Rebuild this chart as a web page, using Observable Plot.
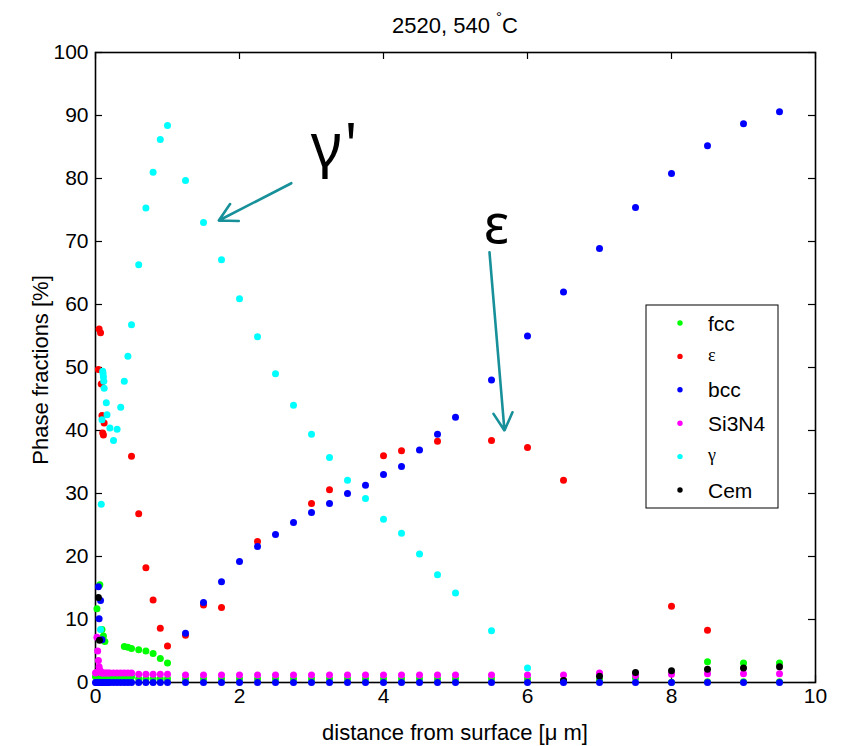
<!DOCTYPE html>
<html><head><meta charset="utf-8">
<script src="https://cdn.jsdelivr.net/npm/d3@7"></script>
<script src="https://cdn.jsdelivr.net/npm/@observablehq/plot@0.6"></script>
<style>body{margin:0;background:#fff}</style>
</head><body><div id="chart"></div>
<script>
// common sampling grid (µm)
const distance = [0,0.01,0.02,0.03,0.04,0.05,0.06,0.07,0.08,0.09,0.1,0.125,0.15,0.175,0.2,0.25,0.3,0.35,0.4,0.45,0.5,
  0.6,0.7,0.8,0.9,1,
  1.25,1.5,1.75,2,2.25,2.5,2.75,3,3.25,3.5,3.75,4,4.25,4.5,4.75,5,
  5.5,6,6.5,7,7.5,8,8.5,9,9.5];
// rows along the bottom (values on the common grid)
const si3n4 = [1.5,1.6,7.2,5.0,3.5,2.5,2.0,1.7,1.6,1.5,1.5,1.5,1.5,1.5,1.5,1.5,1.5,1.5,1.5,1.5,1.5,
  1.3,1.3,1.3,1.3,1.3,
  1.2,1.2,1.2,1.2,1.2,1.2,1.2,1.2,1.2,1.2,1.2,1.2,1.2,1.2,1.2,1.2,
  1.2,1.2,1.2,1.5,1.1,1.3,1.4,1.4,1.4];
const fcc2 = [0.9,0.9,0.9,0.9,0.9,0.9,0.9,0.9,0.9,0.9,0.9,0.9,0.9,0.9,0.9,0.9,0.9,0.9,0.9,0.9,0.9,
  0.6,0.6,0.6,0.6,0.6,
  0.6,0.6,0.6,0.6,0.6,0.6,0.6,0.6,0.6,0.6,0.6,0.6,0.6,0.6,0.6,0.6,
  0.6,0.6,0.3,0.4,0.7,0.05,0.1,0.1,0.1];
const bcc2 = distance.map(() => 0);
// scattered series
const fccX = [0.02,0.06,0.09,0.11,0.13,0.4,0.45,0.5,0.6,0.7,0.8,0.9,1.0,8.5,9.0,9.5];
const fccY = [11.7,15.5,8.4,7.4,6.5,5.7,5.6,5.4,5.2,5.0,4.6,3.8,3.1,3.3,3.1,3.1];
const epsX = [0.04,0.05,0.07,0.08,0.09,0.1,0.11,0.12,0.5,0.6,0.7,0.8,0.9,1.0,1.25,1.5,1.75,2.25,3.0,3.25,4.0,4.25,4.75,5.5,6.0,6.5,8.0,8.5];
const epsY = [49.7,56.1,55.5,47.4,42.4,39.6,39.3,41.2,35.9,26.8,18.2,13.1,8.6,5.8,7.5,12.3,11.9,22.4,28.4,30.6,36.0,36.8,38.3,38.4,37.3,32.1,12.1,8.3];
const bccX = [0.04,0.05,0.07,0.09,1.25,1.5,1.75,2,2.25,2.5,2.75,3,3.25,3.5,3.75,4,4.25,4.5,4.75,5,5.5,6,6.5,7,7.5,8,8.5,9,9.5];
const bccY = [15.2,10.1,13.0,6.8,7.8,12.7,16.0,19.2,21.6,23.5,25.4,27.0,28.4,30.0,31.3,33.0,34.3,36.9,39.4,42.1,48.0,55.0,62.0,68.9,75.4,80.8,85.2,88.7,90.6];
const gamX = [0.07,0.08,0.09,0.1,0.105,0.11,0.115,0.12,0.15,0.16,0.2,0.25,0.3,0.35,0.4,0.45,0.5,0.6,0.7,0.8,0.9,1.0,
  1.25,1.5,1.75,2,2.25,2.5,2.75,3,3.25,3.5,3.75,4,4.25,4.5,4.75,5,5.5,6];
const gamY = [8.4,28.3,41.7,49.4,49.0,48.5,47.8,46.7,44.4,42.5,40.4,38.4,40.2,43.7,47.8,51.8,56.8,66.3,75.3,81.0,86.2,88.4,
  79.7,73.0,67.1,60.9,54.9,49.0,44.0,39.4,35.7,32.1,29.2,25.9,23.7,20.4,17.1,14.2,8.2,2.3];
const cemX = [0.04,0.055,6.5,7.0,7.5,8.0,8.5,9.0,9.5];
const cemY = [13.5,6.7,0.3,1.0,1.6,1.85,2.1,2.3,2.5];
// legend, ticks, annotations
const legendNames = ["fcc","ε","bcc","Si3N4","γ","Cem"];
const legendColors = ["#00ff00","#ff0000","#0000ff","#ff00ff","#00ffff","#000000"];
const xTicks = [0,2,4,6,8,10];
const yTicks = [0,10,20,30,40,50,60,70,80,90,100];
const arrows = [
  {x1:2.72, y1:79.25, x2:1.713, y2:73.33},
  {x1:5.472, y1:68.3, x2:5.68, y2:40.0}
];
const notes = [
  {x:2.99, y:82.0, text:"γ'", size:60, anchor:"start"},
  {x:5.57, y:69.7, text:"ε", size:54, anchor:"middle"}
];

const W = 842, H = 746, mL = 95, mR = 27, mT = 52, mB = 64;
const plotW = W - mL - mR, plotH = H - mT - mB;
const font = "'Liberation Sans', Arial, Helvetica, sans-serif";
const teal = "#17909a";

const pts = (xs, ys) => xs.map((x, i) => ({x, y: ys[i]}));
const row = vals => distance.map((x, i) => ({x, y: vals[i]}));
const dot = (data, fill) => Plot.dot(data, {x: "x", y: "y", r: 3.5, fill, stroke: "none"});

const chart = Plot.plot({
  width: W, height: H,
  marginLeft: mL, marginRight: mR, marginTop: mT, marginBottom: mB,
  style: {fontFamily: font, background: "white", overflow: "visible"},
  x: {domain: [0, 10]},
  y: {domain: [0, 100]},
  marks: [
    Plot.frame({stroke: "black", strokeWidth: 1.6}),
    Plot.tickX(xTicks, {x: d => d, insetTop: plotH - 7, stroke: "black", strokeWidth: 1.2}),
    Plot.tickX(xTicks, {x: d => d, insetBottom: plotH - 7, stroke: "black", strokeWidth: 1.2}),
    Plot.tickY(yTicks, {y: d => d, insetRight: plotW - 7, stroke: "black", strokeWidth: 1.2}),
    Plot.tickY(yTicks, {y: d => d, insetLeft: plotW - 7, stroke: "black", strokeWidth: 1.2}),
    Plot.axisX({ticks: xTicks, tickSize: 0, tickPadding: 6, label: null, fontSize: 21, tickFormat: d => String(d), fill: "black"}),
    Plot.axisY({ticks: yTicks, tickSize: 0, tickPadding: 7, label: null, fontSize: 21, tickFormat: d => String(d), fill: "black"}),
    dot(row(fcc2), "#00ff00"),
    dot(pts(fccX, fccY), "#00ff00"),
    dot(pts(epsX, epsY), "#ff0000"),
    dot(pts(bccX, bccY), "#0000ff"),
    dot(row(si3n4), "#ff00ff"),
    dot(pts(gamX, gamY), "#00ffff"),
    dot(pts(cemX, cemY), "#000000"),
    dot(row(bcc2), "#0000ff"),
    Plot.arrow(arrows, {x1: "x1", y1: "y1", x2: "x2", y2: "y2", stroke: teal, strokeWidth: 2.6, headLength: 11.5, headAngle: 57}),
    Plot.text(notes, {x: "x", y: "y", text: "text", fontSize: d => d.size, textAnchor: "start", lineAnchor: "bottom", fill: "black", fontFamily: "'Noto Sans', 'Open Sans', sans-serif", filter: d => d.anchor === "start"}),
    Plot.text(notes, {x: "x", y: "y", text: "text", fontSize: d => d.size, textAnchor: "middle", lineAnchor: "bottom", fill: "black", fontFamily: "'Noto Sans', 'Open Sans', sans-serif", filter: d => d.anchor === "middle"})
  ]
});

const svg = d3.select(chart);
// title
const t = svg.append("text").attr("x", mL + plotW / 2).attr("y", 33)
  .attr("text-anchor", "middle").attr("font-size", 22).attr("font-family", font).attr("fill", "black");
t.append("tspan").text("2520, 540 ");
t.append("tspan").attr("font-size", 15).attr("dy", -11).text("°");
t.append("tspan").attr("dy", 11).text("C");
// axis labels
svg.append("text").attr("transform", `translate(48,${mT + plotH / 2 + 3}) rotate(-90)`)
  .attr("text-anchor", "middle").attr("font-size", 22).attr("font-family", font).attr("fill", "black")
  .text("Phase fractions [%]");
svg.append("text").attr("x", mL + plotW / 2).attr("y", 740)
  .attr("text-anchor", "middle").attr("font-size", 22).attr("font-family", font).attr("fill", "black")
  .text("distance from surface [μ m]");
// legend
const lg = svg.append("g");
lg.append("rect").attr("x", 646).attr("y", 305).attr("width", 132).attr("height", 203)
  .attr("fill", "white").attr("stroke", "black").attr("stroke-width", 1);
legendNames.forEach((name, i) => {
  const cy = 323 + i * 33.4;
  lg.append("circle").attr("cx", 680).attr("cy", cy).attr("r", 2.7).attr("fill", legendColors[i]);
  const greek = name === "ε" || name === "γ";
  lg.append("text").attr("x", 708).attr("y", cy).attr("dy", greek ? "0.25em" : "0.36em")
    .attr("text-anchor", "start")
    .attr("font-size", greek ? 18 : 21)
    .attr("font-family", greek ? "'Liberation Serif', 'DejaVu Serif', serif" : font)
    .attr("fill", "black").text(name);
});
document.getElementById("chart").appendChild(chart);
</script>
</body></html>
